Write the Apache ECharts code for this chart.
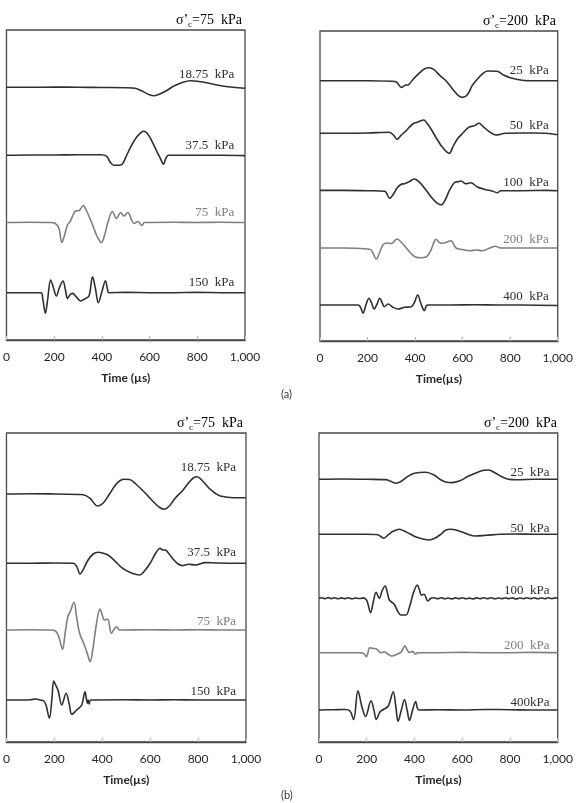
<!DOCTYPE html>
<html>
<head>
<meta charset="utf-8">
<script src="https://cdn.jsdelivr.net/npm/echarts@6/dist/echarts.min.js"></script>
<style>
  html, body { margin: 0; padding: 0; background: #fff; }
  #chart { width: 576px; height: 803px; }
</style>
</head>
<body>
<div id="chart"></div>
<script>
// waveforms: [time (µs), amplitude (arbitrary, up = +)]
// (a) sigma'c = 75 kPa
const a75_1875 = [[0,1],[100,1],[200,1.2],[300,1],[400,0.8],[500,0.6],[540,0],[570,-3],[600,-6.5],[617,-7.5],[640,-6],[670,-2.5],[700,2],[740,6],[772,7.5],[800,7],[850,5],[900,2.5],[950,1],[1000,0]];
const a75_375 = [[0,0],[100,0.3],[200,0.3],[300,0.5],[395,0.5],[420,-1],[435,-7],[450,-10],[470,-10],[485,-9],[500,-2],[520,8],[545,18],[565,23],[575,24],[590,22],[610,14],[630,4],[645,-3],[658,-9],[668,-3],[678,0],[700,0],[800,0],[900,0],[1000,-0.3]];
const a75_75 = [[0,0],[100,0.3],[180,0],[205,-1],[220,-6],[232,-20],[242,-14],[255,-3],[267,1],[280,8],[290,11.5],[305,12],[322,17],[335,12],[350,4],[365,-5],[380,-14],[398,-20],[412,-12],[425,0],[444,11],[461,4],[479,10],[492,6.5],[509,10],[522,4],[534,-1],[551,1],[568,-3],[578,0],[700,0.3],[800,0],[900,0.3],[1000,0]];
const a75_150 = [[0,0],[100,0],[145,0],[152,-6],[163,-20.5],[172,-8],[185,12.7],[197,5],[209,-3.3],[222,5],[237,11.7],[247,3],[256,-5.7],[266,-2],[277,-0.7],[292,-4],[311,-8.3],[330,-6],[346,-3.3],[361,16],[373,4],[385,-10],[400,1],[415,12],[423,4],[430,0],[500,0.3],[600,0],[700,0],[800,0.3],[900,0],[1000,0]];
// (a) sigma'c = 200 kPa
const a200_25 = [[0,0],[100,0],[200,0],[300,-0.5],[320,-1],[342,-6.7],[358,-4.5],[372,-4],[390,1],[420,8],[440,12],[460,13],[480,11],[505,5],[530,0],[560,-9],[585,-15.5],[600,-16.7],[620,-14],[640,-5],[656,0],[680,6],[705,9.7],[745,9.5],[770,6],[800,3],[850,0.5],[900,0],[1000,0]];
const a200_50 = [[0,0],[100,0],[200,0.3],[290,1],[310,-2],[324,-6],[342,-1.7],[360,2],[390,9.3],[410,11],[437,13.3],[450,10],[465,5],[490,-5],[515,-14],[544,-20],[560,-13],[580,-5],[600,0],[625,6],[649,7.5],[669,10],[685,7],[710,2],[739,-1.7],[780,0],[850,0.3],[900,0.3],[950,0],[1000,-1.5]];
const a200_100 = [[0,0.3],[100,0.3],[200,0],[272,-0.5],[293,-7.6],[310,-3],[325,3],[342,6.4],[355,7],[375,9],[397,11.7],[420,8],[445,1],[470,-7],[490,-12],[509,-14.3],[525,-10],[544,0],[565,8],[580,9],[593,9.7],[614,7],[635,8],[660,4],[697,1],[720,0],[746,-2],[760,0],[850,0],[950,0.3],[1000,0]];
const a200_200 = [[0,0],[100,0],[200,-1],[216,-2],[237,-11],[250,-5],[265,3.3],[282,5],[300,4.5],[324,9],[345,5],[363,0],[385,-6],[405,-9.4],[425,-9.7],[446,-9],[465,-3],[478,5],[488,8.7],[500,6],[509,4.7],[530,5.5],[551,7.3],[572,0],[600,-1.5],[630,-2.7],[660,-2],[682,-2.7],[710,-0.5],[739,1.7],[760,0],[850,0],[1000,0]];
const a200_400 = [[0,0],[100,0],[160,0],[170,-2],[181,-8.3],[193,0],[206,6.7],[217,2],[227,-4],[240,1],[251,6.7],[262,2],[270,-1.7],[287,1],[305,-2],[328,-4],[356,-2.3],[384,-1.7],[398,3],[411,10],[425,1],[439,-5.7],[447,-1],[453,0],[550,0],[650,0.3],[750,0],[850,0],[1000,-0.5]];
// (b) sigma'c = 75 kPa
const b75_1875 = [[0,0],[100,0.3],[200,0],[300,-0.5],[321,-0.7],[349,-4.3],[368,-10],[380,-12],[403,-9.3],[430,0],[455,9],[475,13.5],[493,14.7],[514,14.5],[540,10],[575,2],[610,-7],[640,-13.5],[658,-15.3],[680,-12],[705,-4],[734,3],[760,11],[780,16],[796,17.3],[815,14],[845,6],[870,1],[893,-2],[948,-3.7],[1000,-3.7]];
const b75_375 = [[0,0],[100,0],[200,0.3],[280,0],[295,-4],[307,-10.7],[321,-6],[340,3],[362,9.3],[383,11],[405,10],[424,8.3],[450,3],[480,-4],[515,-9],[555,-11.7],[575,-8],[600,0],[620,9],[642,15],[650,13.5],[665,13],[680,9],[700,3],[713,0],[734,-2.3],[760,-1],[790,-1.7],[830,0.7],[880,0.3],[950,0],[1000,0]];
const b75_75 = [[0,0],[100,0.3],[180,0],[205,-1],[220,-8],[234,-19.3],[245,-3],[256,13.3],[265,17.7],[282,27.7],[292,14],[305,-3],[325,-15],[338,-24],[349,-31.7],[360,-20],[375,5],[390,21],[400,15],[408,10],[422,11],[438,-3.3],[450,1],[459,3.3],[473,0],[600,0.3],[700,0],[800,0.3],[900,0],[1000,0]];
const b75_150 = [[0,0],[100,0.3],[122,1],[140,0],[156,-1],[165,-5],[179,-18.3],[190,2],[197,19],[207,14],[215,10],[231,-5],[249,6.7],[262,-4],[273,-14.3],[293,-10],[314,-5],[328,8.3],[333,2],[338,-3.3],[341,0],[345,-4],[352,0],[500,0.3],[600,0],[700,0.3],[800,0],[900,0],[1000,0]];
// (b) sigma'c = 200 kPa
const b200_25 = [[0,0],[100,0.3],[200,0],[280,-0.3],[300,-2],[322,-4],[345,-2],[370,2.5],[400,6],[447,7],[480,4.5],[510,-0.5],[535,-3],[557,-3.3],[590,-1.5],[625,3],[665,7],[690,9],[710,9.3],[740,6],[770,2],[793,0],[830,-0.5],[900,0],[1000,0]];
const b200_50 = [[0,0],[100,0],[200,0],[246,-0.5],[260,-2.5],[271,-4],[285,-1.5],[295,0.5],[310,3],[336,5],[355,3.5],[380,0.5],[410,-3],[440,-5],[461,-5.7],[485,-4],[510,0],[530,4],[551,5],[570,4.5],[602,2],[620,0.3],[654,-1.7],[700,-1],[760,0],[820,0.3],[900,0],[1000,0]];
const b200_100 = [[0,0],[12,0.6],[25,-0.4],[38,0.7],[52,-0.3],[64,0.5],[80,-0.5],[92,0.4],[108,-0.3],[122,0.6],[138,-0.5],[152,0.3],[170,-0.2],[185,0.4],[200,-2],[216,-14.3],[228,-3],[239,6],[253,0],[265,8],[277,12.3],[287,5],[295,-1.7],[315,-6],[330,-13],[343,-16.7],[364,-16.7],[380,-8],[395,5],[412,13.3],[420,9],[429,3.3],[440,4],[456,-2.7],[469,0],[482,0.6],[497,-0.4],[512,0.5],[527,-0.5],[540,0.3],[556,-0.6],[570,0.4],[586,-0.3],[600,0.6],[616,-0.5],[630,0.2],[645,-0.6],[660,0.4],[674,-0.4],[690,0.5],[705,-0.3],[720,0.6],[736,-0.5],[750,0.3],[766,-0.4],[780,0.6],[795,-0.3],[810,0.4],[826,-0.6],[840,0.3],[856,-0.4],[870,0.5],[886,-0.3],[900,0.6],[916,-0.5],[930,0.3],[946,-0.4],[960,0.5],[976,-0.3],[990,0.4],[1000,0]];
const b200_200 = [[0,0],[100,0],[175,0],[188,-1],[198,-4],[205,0],[212,5],[225,4.3],[239,4],[259,0],[273,1],[287,-1.3],[304,-3.3],[329,-1.3],[343,0.3],[352,4],[360,7],[369,3],[378,0.3],[392,1.3],[405,-1.3],[412,0],[500,0],[600,0.3],[700,0],[800,0],[900,0.3],[1000,0]];
const b200_400 = [[0,0],[60,0.3],[110,0.5],[130,-1],[145,-9.5],[163,19.3],[180,3],[195,-6.5],[218,9.2],[230,0],[240,-9.5],[255,-2],[270,0.5],[290,4],[311,18.3],[322,3],[331,-11.3],[345,0],[358,10.5],[369,0],[379,-10.5],[392,0],[405,8.5],[412,2],[419,0],[500,0.3],[600,0],[700,0.5],[800,0.3],[900,0],[1000,0]];

// panels
const panelTitles = ["=75  kPa", "=200  kPa", "=75  kPa", "=200  kPa"];
const axisNames = ["Time (µs)", "Time(µs)", "Time(µs)", "Time(µs)"];
const traces = [
  [a75_1875, a75_375, a75_75, a75_150],
  [a200_25, a200_50, a200_100, a200_200, a200_400],
  [b75_1875, b75_375, b75_75, b75_150],
  [b200_25, b200_50, b200_100, b200_200, b200_400]
];
const traceLabels = [
  ["18.75  kPa", "37.5  kPa", "75  kPa", "150  kPa"],
  ["25  kPa", "50  kPa", "100  kPa", "200  kPa", "400  kPa"],
  ["18.75  kPa", "37.5  kPa", "75  kPa", "150  kPa"],
  ["25  kPa", "50  kPa", "100  kPa", "200  kPa", "400kPa"]
];
// vertical offset of each trace (stacked display)
const traceOffsets = [
  [251.7, 184.7, 117.5, 47.3],
  [260.3, 207.7, 150.3, 93, 36],
  [248, 178.7, 112, 42],
  [262.7, 207.7, 143.7, 89.3, 32]
];
const grayTrace = [2, 3, 2, 3];

// layout
const grids = [
  { left: 4, top: 30, width: 241, height: 310 },
  { left: 320, top: 31, width: 239, height: 310 },
  { left: 4, top: 433, width: 242, height: 309 },
  { left: 319, top: 433, width: 241, height: 309 }
];
const labelLift = [
  [14, 9.5, 9.5, 10.5],
  [10, 8, 8, 8, 8],
  [26, 11, 8, 8],
  [7, 6, 8, 7, 7]
];
const labelT = [955, 962, 958, 966];

const dark = "#303030", gray = "#7f7f7f";
const serif = "'Liberation Serif', 'DejaVu Serif', serif";
const sans = "Lato, 'Open Sans', sans-serif";

const chart = echarts.init(document.getElementById("chart"));
let xAxis = [], yAxis = [], series = [], graphic = [];

grids.forEach(function (g, p) {
  g.show = true;
  g.borderColor = "#4a4a4a";
  g.borderWidth = 1.3;
  xAxis.push({
    type: "value",
    gridIndex: p,
    min: 0,
    max: 1000,
    interval: 200,
    name: axisNames[p],
    nameLocation: "middle",
    nameGap: 32,
    nameTextStyle: { fontFamily: sans, fontSize: 12, fontWeight: "bold", color: "#262626" },
    axisLine: { show: true, lineStyle: { color: "#4a4a4a", width: 1.3 } },
    axisTick: { show: true, inside: true, length: 4, lineStyle: { color: "#bbb" } },
    splitLine: { show: false },
    axisLabel: {
      margin: 11,
      fontFamily: sans,
      fontSize: 12,
      color: "#262626",
      formatter: function (v) { return v >= 1000 ? "1,000" : String(v); }
    }
  });
  yAxis.push({ type: "value", gridIndex: p, min: 0, max: g.height, show: false });

  traces[p].forEach(function (tr, i) {
    const off = traceOffsets[p][i];
    const col = i === grayTrace[p] ? gray : dark;
    series.push({
      type: "line",
      xAxisIndex: p,
      yAxisIndex: p,
      smooth: 0.35,
      symbol: "none",
      silent: true,
      lineStyle: { color: col, width: 1.6 },
      data: tr.map(function (d) { return [d[0], off + d[1]]; }),
      markPoint: {
        symbolSize: 0,
        silent: true,
        label: {
          show: true,
          position: "left",
          distance: 0,
          fontFamily: serif,
          fontSize: 13,
          color: col,
          formatter: traceLabels[p][i]
        },
        data: [{ coord: [labelT[p], off + labelLift[p][i]] }]
      }
    });
  });

  graphic.push({
    type: "text",
    right: 576 - (g.left + g.width) + 3,
    top: g.top - 17,
    style: {
      text: "{n|σ’}{s|c}{n|" + panelTitles[p] + "}",
      rich: {
        n: { fontFamily: serif, fontSize: 14, color: "#333", lineHeight: 16, verticalAlign: "top" },
        s: { fontFamily: serif, fontSize: 9, color: "#333", lineHeight: 9, padding: [7, 0, 0, 0], verticalAlign: "top" }
      }
    }
  });
});

graphic.push({ type: "text", left: 281, top: 389, style: { text: "(a)", fontFamily: sans, fontSize: 11, fill: "#333" } });
graphic.push({ type: "text", left: 281, top: 790, style: { text: "(b)", fontFamily: sans, fontSize: 11, fill: "#333" } });

chart.setOption({
  animation: false,
  backgroundColor: "#fff",
  grid: grids,
  xAxis: xAxis,
  yAxis: yAxis,
  series: series,
  graphic: graphic
});
</script>
</body>
</html>
